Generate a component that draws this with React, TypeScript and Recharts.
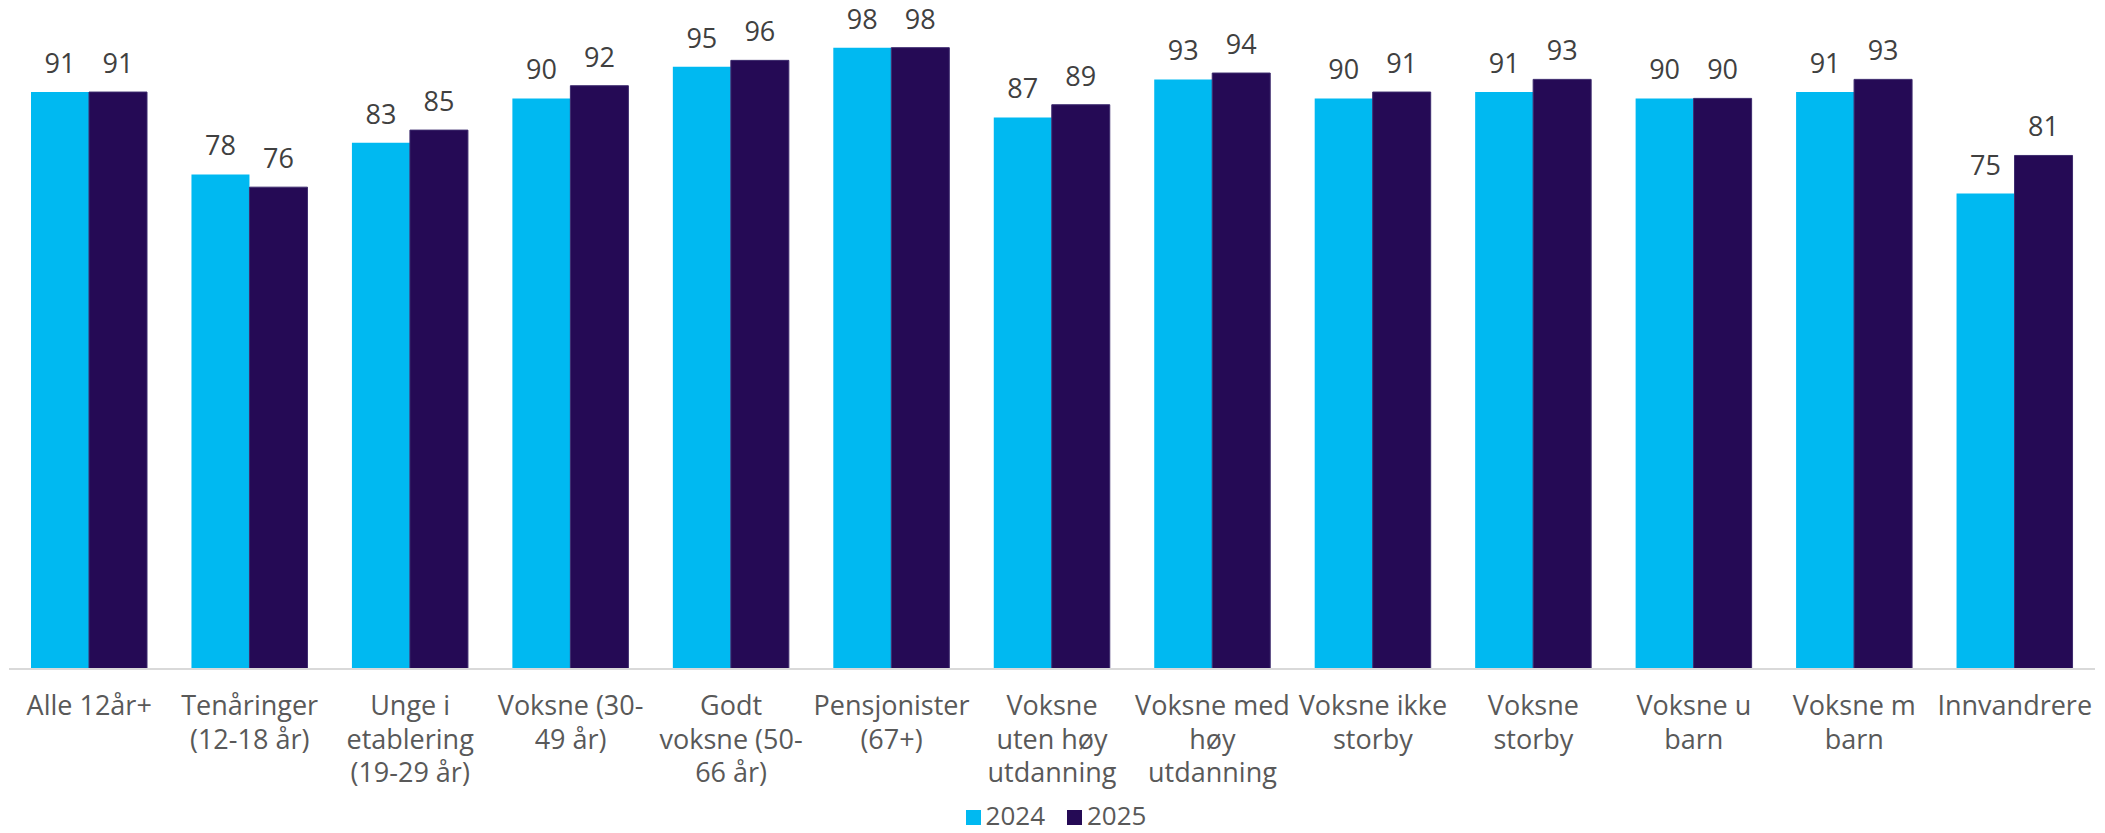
import { BarChart, Bar, XAxis, YAxis, Legend, LabelList } from "recharts";

const categories = [
  "Alle 12år+",
  "Tenåringer (12-18 år)",
  "Unge i etablering (19-29 år)",
  "Voksne (30-49 år)",
  "Godt voksne (50-66 år)",
  "Pensjonister (67+)",
  "Voksne uten høy utdanning",
  "Voksne med høy utdanning",
  "Voksne ikke storby",
  "Voksne storby",
  "Voksne u barn",
  "Voksne m barn",
  "Innvandrere",
];

// tick labels, wrapped the way the original shows them
const tickLines = [
  ["Alle 12år+"],
  ["Tenåringer", "(12-18 år)"],
  ["Unge i", "etablering", "(19-29 år)"],
  ["Voksne (30-", "49 år)"],
  ["Godt", "voksne (50-", "66 år)"],
  ["Pensjonister", "(67+)"],
  ["Voksne", "uten høy", "utdanning"],
  ["Voksne med", "høy", "utdanning"],
  ["Voksne ikke", "storby"],
  ["Voksne", "storby"],
  ["Voksne u", "barn"],
  ["Voksne m", "barn"],
  ["Innvandrere"],
];

const values2024 = [91, 78, 83, 90, 95, 98, 87, 93, 90, 91, 90, 91, 75];
const values2025 = [91, 76, 85, 92, 96, 98, 89, 94, 91, 93, 90, 93, 81];

const data = categories.map((name, i) => ({
  name,
  y2024: values2024[i],
  y2025: values2025[i],
}));

const FONT = "'Open Sans', sans-serif";
const CYAN = "#00B9F1";
const NAVY = "#250A55";

function CategoryTick({ x, y, payload }: any) {
  const idx = categories.indexOf(payload.value);
  const lines = tickLines[idx] ?? [payload.value];
  return (
    <text
      x={x}
      y={y}
      textAnchor="middle"
      fill="#595959"
      fontSize={27}
      fontFamily={FONT}
    >
      {lines.map((line, i) => (
        <tspan key={i} x={x} dy={i === 0 ? 46 : 33.5}>
          {line}
        </tspan>
      ))}
    </text>
  );
}

function LegendContent() {
  const items = [
    { label: "2024", color: CYAN },
    { label: "2025", color: NAVY },
  ];
  return (
    <div
      style={{
        display: "flex",
        justifyContent: "center",
        alignItems: "flex-end",
        height: 40,
        boxSizing: "border-box",
        paddingLeft: 8,
        paddingBottom: 5,
        gap: 22,
        fontFamily: FONT,
        fontSize: 26,
        lineHeight: "26px",
        color: "#595959",
      }}
    >
      {items.map((it) => (
        <div key={it.label} style={{ display: "flex", alignItems: "center" }}>
          <span
            style={{
              width: 15,
              height: 15,
              background: it.color,
              marginRight: 5,
              marginTop: 4,
              display: "inline-block",
            }}
          />
          <span>{it.label}</span>
        </div>
      ))}
    </div>
  );
}

export default function App() {
  return (
    <div style={{ position: "absolute", left: 0, top: 0, background: "#fff" }}>
      <BarChart
        width={2105}
        height={833}
        data={data}
        margin={{ top: 35, right: 10, bottom: 0, left: 9 }}
        barGap={0}
        barCategoryGap={22}
      >
        <XAxis
          dataKey="name"
          interval={0}
          tickLine={false}
          tickSize={0}
          tickMargin={0}
          height={124}
          tick={<CategoryTick />}
          axisLine={{ stroke: "#d9d9d9", strokeWidth: 2 }}
        />
        <YAxis hide domain={[0, 100]} />
        <Legend
          verticalAlign="bottom"
          height={40}
          content={<LegendContent />}
        />
        <Bar dataKey="y2024" name="2024" fill={CYAN} isAnimationActive={false}>
          <LabelList
            dataKey="y2024"
            position="top"
            offset={19}
            fill="#404040"
            fontSize={27}
            fontFamily={FONT}
          />
        </Bar>
        <Bar
          dataKey="y2025"
          name="2025"
          fill={NAVY}
          stroke="#3d2b6e"
          strokeWidth={1}
          isAnimationActive={false}
        >
          <LabelList
            dataKey="y2025"
            position="top"
            offset={19}
            fill="#404040"
            fontSize={27}
            fontFamily={FONT}
          />
        </Bar>
      </BarChart>
    </div>
  );
}
